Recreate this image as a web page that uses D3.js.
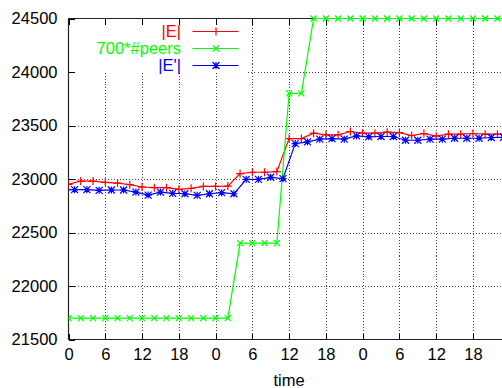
<!DOCTYPE html>
<html>
<head>
<meta charset="utf-8">
<script src="https://cdn.jsdelivr.net/npm/d3@7"></script>
<style>
  body { margin: 0; background: #fff; }
  svg { display: block; font-family: "Liberation Sans", Arial, sans-serif; }
  .grid line { stroke: #444; stroke-dasharray: 1,2; shape-rendering: crispEdges; }
</style>
</head>
<body>
<div id="chart"></div>
<script>
// hours since start, one sample every 2 hours
const edgeHours = [0, 2, 4, 6, 8, 10, 12, 14, 16, 18, 20, 22, 24, 26, 28, 30, 32, 34,
                   36, 38, 40, 42, 44, 46, 48, 50, 52, 54, 56, 58, 60, 62, 64, 66, 68, 70, 72];
const edgeCount = [22950, 22981, 22981, 22969, 22962, 22947, 22925, 22919, 22919, 22903,
                   22913, 22931, 22931, 22934, 23050, 23063, 23063, 23069, 23378, 23378,
                   23428, 23413, 23413, 23444, 23428, 23428, 23438, 23434, 23406, 23425,
                   23400, 23419, 23419, 23425, 23419, 23419, 23419];
const peers700 = [21700, 21700, 21700, 21700, 21700, 21700, 21700, 21700, 21700, 21700,
                  21700, 21700, 21700, 21700, 22400, 22400, 22400, 22400, 23800, 23800,
                  24500, 24500, 24500, 24500, 24500, 24500, 24500, 24500, 24500, 24500,
                  24500, 24500, 24500, 24500, 24500, 24500, 24500];
// |E'| is sampled on the odd hours
const edge2Hours = [-1, 1, 3, 5, 7, 9, 11, 13, 15, 17, 19, 21, 23, 25, 27, 29, 31, 33, 35,
                    37, 39, 41, 43, 45, 47, 49, 51, 53, 55, 57, 59, 61, 63, 65, 67, 69, 71];
const edge2Count = [22900, 22900, 22900, 22894, 22897, 22897, 22878, 22850, 22878, 22866,
                    22862, 22847, 22862, 22872, 22862, 22997, 22997, 23016, 23003, 23331,
                    23347, 23372, 23378, 23372, 23403, 23394, 23397, 23397, 23362, 23362,
                    23372, 23372, 23381, 23381, 23381, 23388, 23390];

const xTickHours = [0, 6, 12, 18, 24, 30, 36, 42, 48, 54, 60, 66];
const xTickLabels = ["0", "6", "12", "18", "0", "6", "12", "18", "0", "6", "12", "18"];
const yTicks = [21500, 22000, 22500, 23000, 23500, 24000, 24500];

const W = 502, H = 388;
const plotLeft = 68.5, plotTop = 18.5, plotBottom = 339.5, plotRight = 509.7;

const svg = d3.select('#chart').append('svg')
    .attr('width', W)
    .attr('height', H);

const x = d3.scaleLinear().domain([0, 72]).range([plotLeft, plotRight]);
const y = d3.scaleLinear().domain([21500, 24500]).range([plotBottom, plotTop]);

// grid
const grid = svg.append('g').attr('class', 'grid');
xTickHours.slice(1).forEach(h => {
    grid.append('line')
        .attr('x1', Math.round(x(h)) + 0.5).attr('x2', Math.round(x(h)) + 0.5)
        .attr('y1', plotTop).attr('y2', plotBottom);
});
yTicks.slice(1, -1).forEach(v => {
    grid.append('line')
        .attr('x1', plotLeft).attr('x2', W)
        .attr('y1', Math.round(y(v)) + 0.5).attr('y2', Math.round(y(v)) + 0.5);
});

// key background hides the grid
svg.append('rect')
    .attr('x', plotLeft + 0.5).attr('y', plotTop + 0.5)
    .attr('width', 177).attr('height', 54)
    .attr('fill', '#fff');

// axes (ticks point inward, like gnuplot)
const fontSize = '16.5px';
const xAxis = svg.append('g')
    .attr('transform', `translate(0,${plotBottom})`)
    .call(d3.axisBottom(x).tickValues(xTickHours).tickSize(-6).tickPadding(9)
        .tickFormat((d, i) => xTickLabels[i]));
const xTop = svg.append('g')
    .attr('transform', `translate(0,${plotTop})`)
    .call(d3.axisTop(x).tickValues(xTickHours).tickSize(-6).tickFormat(''));
const yAxis = svg.append('g')
    .attr('transform', `translate(${plotLeft},0)`)
    .call(d3.axisLeft(y).tickValues(yTicks).tickSize(-6).tickPadding(11)
        .tickFormat(d3.format('d')));

[xAxis, xTop, yAxis].forEach(g => {
    g.select('.domain').remove();
    g.selectAll('line').attr('stroke', '#000').attr('shape-rendering', 'crispEdges');
    g.selectAll('text').attr('fill', '#000').style('font-size', fontSize)
        .style('font-family', '"Liberation Sans", Arial, sans-serif');
});

// border
svg.append('path')
    .attr('d', `M${W + 10},${plotTop}H${plotLeft}V${plotBottom}H${W + 10}`)
    .attr('fill', 'none')
    .attr('stroke', '#222')
    .attr('stroke-width', 1.2);

svg.append('text')
    .attr('x', 289).attr('y', 386)
    .attr('text-anchor', 'middle')
    .style('font-size', fontSize)
    .text('time');

// data
svg.append('clipPath').attr('id', 'plot-clip')
    .append('rect')
    .attr('x', plotLeft).attr('y', plotTop - 4)
    .attr('width', plotRight - plotLeft).attr('height', plotBottom - plotTop + 8);

const markers = {
    plus: s => `M${-s},0H${s}M0,${-s}V${s}`,
    cross: s => `M${-s},${-s}L${s},${s}M${-s},${s}L${s},${-s}`,
    star: s => `M${-s},0H${s}M0,${-s}V${s}M${-s},${-s}L${s},${s}M${-s},${s}L${s},${-s}`
};

const series = [
    { label: '|E|', color: '#ff0000', hours: edgeHours, values: edgeCount, marker: 'plus', size: 4 },
    { label: '700*#peers', color: '#00ff00', hours: edgeHours, values: peers700, marker: 'cross', size: 3 },
    { label: "|E'|", color: '#0000ff', hours: edge2Hours, values: edge2Count, marker: 'star', size: 3.5 }
];

const plot = svg.append('g').attr('clip-path', 'url(#plot-clip)');
const line = d3.line();

series.forEach(s => {
    const pts = s.hours.map((h, i) => [x(h), y(s.values[i])]);
    plot.append('path')
        .attr('d', line(pts))
        .attr('fill', 'none')
        .attr('stroke', s.color)
        .attr('stroke-width', 1.2);
    plot.selectAll(null)
        .data(pts)
        .enter()
        .append('path')
        .attr('transform', p => `translate(${p[0]},${p[1]})`)
        .attr('d', markers[s.marker](s.size))
        .attr('fill', 'none')
        .attr('stroke', s.color)
        .attr('stroke-width', 1.2);
});

// key
series.forEach((s, i) => {
    const ky = 31.5 + i * 17;
    svg.append('text')
        .attr('x', 181).attr('y', ky)
        .attr('dy', '0.36em')
        .attr('text-anchor', 'end')
        .attr('fill', s.color)
        .style('font-size', fontSize)
        .text(s.label);
    svg.append('line')
        .attr('x1', 192.5).attr('x2', 238.5)
        .attr('y1', ky).attr('y2', ky)
        .attr('stroke', s.color)
        .attr('stroke-width', 1.2);
    svg.append('path')
        .attr('transform', `translate(216,${ky})`)
        .attr('d', markers[s.marker](s.size))
        .attr('fill', 'none')
        .attr('stroke', s.color)
        .attr('stroke-width', 1.2);
});
</script>
</body>
</html>
